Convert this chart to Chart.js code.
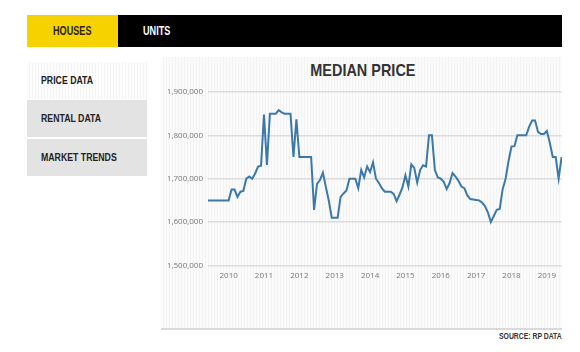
<!DOCTYPE html>
<html>
<head>
<meta charset="utf-8">
<script src="https://cdn.jsdelivr.net/npm/chart.js@4.4.1/dist/chart.umd.min.js"></script>
<style>
  body { margin: 0; width: 580px; height: 352px; background: #fff; position: relative; overflow: hidden;
         font-family: "Liberation Sans", Arial, sans-serif; }
  .narrow { font-weight: bold; display: inline-block; transform: scaleX(0.76); transform-origin: left center; white-space: nowrap; }
  #tabs { position: absolute; left: 27px; top: 15px; width: 535px; height: 32px; background: #000; }
  #tabs .on { position: absolute; left: 0; top: 0; width: 91px; height: 32px; background: #f6d300;
              color: #2a2200; font-size: 12px; line-height: 32px; }
  #tabs .on span { position: absolute; left: 26px; }
  #tabs .off { position: absolute; left: 116px; top: 0; height: 32px; color: #fff; font-size: 12px; line-height: 32px; }
  .side { position: absolute; left: 27px; width: 120px; height: 37px; background: #e3e3e3;
          color: #222; font-size: 11.5px; line-height: 37px; padding-left: 14px; box-sizing: border-box; }
  .side.first { background: repeating-linear-gradient(90deg, #fdfdfd 0 2px, #f4f4f4 2px 3px); }
  #panel { position: absolute; left: 161px; top: 57px; width: 401px; height: 271px;
           background: repeating-linear-gradient(90deg, #fbfbfb 0 2px, #f3f3f3 2px 3px);
           border-bottom: 2px solid #d9d9d9; }
  #title { position: absolute; left: 163px; width: 399px; top: 61px; text-align: center;
           font-size: 17px; line-height: 20px; color: #333; }
  #title span { font-weight: bold; display: inline-block; transform: scaleX(0.85); transform-origin: center; }
  #box { position: absolute; left: 163px; top: 57px; width: 399px; height: 235px; }
  #source { position: absolute; left: 499px; top: 330px; font-size: 9px; line-height: 12px; color: #333; }
</style>
</head>
<body>
<div id="tabs">
  <div class="on"><span class="narrow">HOUSES</span></div>
  <div class="off"><span class="narrow">UNITS</span></div>
</div>
<div class="side first" style="top:62px"><span class="narrow">PRICE DATA</span></div>
<div class="side" style="top:100px"><span class="narrow">RENTAL DATA</span></div>
<div class="side" style="top:139px"><span class="narrow">MARKET TRENDS</span></div>
<div id="panel"></div>
<div id="title"><span>MEDIAN PRICE</span></div>
<div id="box"><canvas id="priceChart"></canvas></div>
<div id="source"><span class="narrow">SOURCE: RP DATA</span></div>
<script>
// monthly median house price, Jun 2009 - Jun 2019
const startYear = 2009;
const startMonth = 5; // June (0-based)
const medianPrice = [
  1650000, 1650000, 1650000, 1650000, 1650000, 1650000, 1650000, 1650000,
  1675000, 1675000, 1658000, 1670000, 1672000, 1700000, 1705000, 1700000,
  1712000, 1728000, 1730000, 1848000, 1732000, 1850000, 1850000, 1850000,
  1858000, 1853000, 1850000, 1850000, 1850000, 1750000, 1837000, 1750000,
  1750000, 1750000, 1750000, 1750000, 1628000, 1688000, 1697000, 1714000,
  1681000, 1649000, 1610000, 1610000, 1610000, 1658000, 1666000, 1673000,
  1700000, 1700000, 1700000, 1678000, 1720000, 1703000, 1728000, 1715000,
  1738000, 1700000, 1690000, 1678000, 1670000, 1670000, 1670000, 1665000,
  1648000, 1663000, 1680000, 1708000, 1682000, 1733000, 1725000, 1691000,
  1720000, 1731000, 1728000, 1800000, 1800000, 1720000, 1703000, 1700000,
  1693000, 1676000, 1690000, 1713000, 1705000, 1695000, 1682000, 1678000,
  1662000, 1653000, 1652000, 1651000, 1650000, 1645000, 1637000, 1622000,
  1600000, 1614000, 1628000, 1630000, 1676000, 1700000, 1741000, 1774000,
  1775000, 1800000, 1800000, 1800000, 1800000, 1820000, 1834000, 1834000,
  1808000, 1803000, 1803000, 1810000, 1783000, 1750000, 1750000, 1700000,
  1750000
];
const monthLabels = medianPrice.map((v, i) => {
  const m = startMonth + i;
  return (startYear + Math.floor(m / 12)) + '-' + String(m % 12 + 1).padStart(2, '0');
});
const yMin = 1500000, yMax = 1900000, yStep = 100000;

const ctx = document.getElementById('priceChart').getContext('2d');
new Chart(ctx, {
  type: 'line',
  data: {
    labels: monthLabels,
    datasets: [{
      label: 'Median price',
      data: medianPrice,
      borderColor: '#3b79aa',
      borderWidth: 2,
      pointRadius: 0,
      tension: 0,
      fill: false,
      clip: false
    }]
  },
  options: {
    responsive: true,
    maintainAspectRatio: false,
    animation: false,
    layout: { padding: { left: 5, right: 0, top: 35, bottom: 5 } },
    plugins: {
      legend: { display: false },
      tooltip: { enabled: false }
    },
    scales: {
      x: {
        grid: { display: false, drawTicks: false },
        border: { display: false },
        ticks: {
          autoSkip: false,
          maxRotation: 0,
          minRotation: 0,
          padding: 6,
          color: '#777',
          font: { family: '"Open Sans", sans-serif', size: 8 },
          callback: function (val, i) {
            const lab = monthLabels[i];
            return lab.endsWith('-01') ? lab.slice(0, 4) : null;
          }
        }
      },
      y: {
        min: yMin,
        max: yMax,
        afterFit: function (scale) { scale.width = 40; },
        grid: { color: '#dcdcdc', lineWidth: 1.5, drawTicks: false },
        border: { display: false },
        ticks: {
          stepSize: yStep,
          padding: 5,
          color: '#777',
          font: { family: '"Open Sans", sans-serif', size: 8 },
          callback: v => v.toLocaleString('en-US')
        }
      }
    }
  }
});
</script>
</body>
</html>
